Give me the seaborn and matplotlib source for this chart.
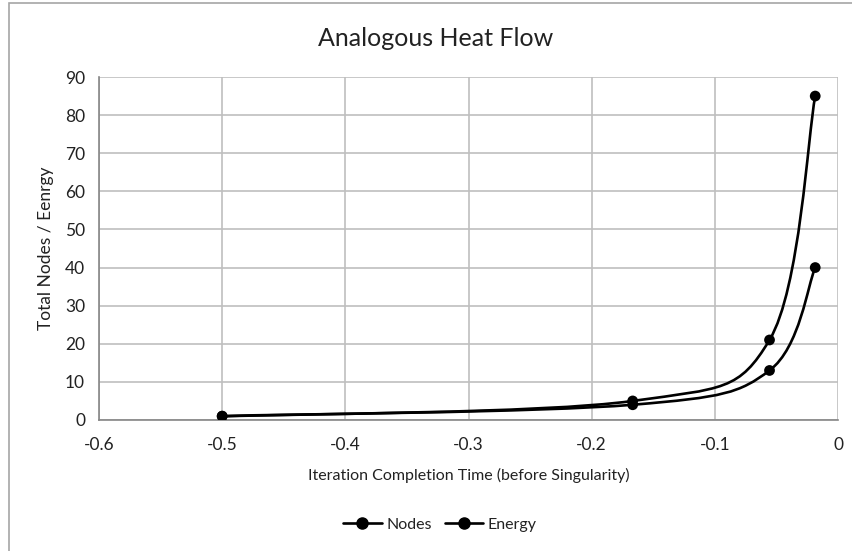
import matplotlib
matplotlib.use("Agg")
import matplotlib.pyplot as plt
import numpy as np
import pandas as pd
import seaborn as sns
from matplotlib.lines import Line2D
from matplotlib.path import Path
from matplotlib.patches import PathPatch, Rectangle

# data
completion_time = [-0.5, -0.1667, -0.0556, -0.0185]
nodes = [1, 5, 21, 85]
energy = [1, 4, 13, 40]
series_names = ["Nodes", "Energy"]

x_ticks = [-0.6, -0.5, -0.4, -0.3, -0.2, -0.1, 0]
x_tick_labels = ["-0.6", "-0.5", "-0.4", "-0.3", "-0.2", "-0.1", "0"]
y_ticks = [0, 10, 20, 30, 40, 50, 60, 70, 80, 90]

sns.set_theme(style="whitegrid")
plt.rcParams["font.family"] = ["Lato", "DejaVu Sans"]

df = pd.DataFrame({
    "x": completion_time * 2,
    "y": nodes + energy,
    "series": ["Nodes"] * len(nodes) + ["Energy"] * len(energy),
})


def smooth_path(xs, ys):
    # Excel-style smoothed line: cubic Bezier through every point
    pts = np.column_stack([xs, ys]).astype(float)
    n = len(pts)
    verts = [pts[0]]
    codes = [Path.MOVETO]
    for i in range(n - 1):
        p0 = pts[i - 1] if i > 0 else pts[i]
        p1 = pts[i]
        p2 = pts[i + 1]
        p3 = pts[i + 2] if i + 2 < n else pts[i + 1]
        c1 = p1 + (p2 - p0) / 6.0
        c2 = p2 - (p3 - p1) / 6.0
        verts += [c1, c2, p2]
        codes += [Path.CURVE4] * 3
    return Path(verts, codes)


fig = plt.figure(figsize=(8.52, 5.51), dpi=100)
ax = fig.add_axes([99 / 852, 1 - 420 / 551, (838 - 99) / 852, (420 - 77) / 551])

fig.patches.append(Rectangle((9 / 852, -0.1), 1.1, 1 - 3 / 551 + 0.1,
                             transform=fig.transFigure, fill=False,
                             edgecolor="#a6a6a6", linewidth=1.2))

for name, vals in zip(series_names, [nodes, energy]):
    ax.add_patch(PathPatch(smooth_path(completion_time, vals), fill=False,
                           edgecolor="black", linewidth=1.9, zorder=3))

sns.scatterplot(data=df, x="x", y="y", hue="series", palette=["black", "black"],
                s=60, edgecolor="black", linewidth=0, legend=False, ax=ax, zorder=4)

ax.set_xlim(-0.6, 0)
ax.set_ylim(0, 90)
ax.set_xticks(x_ticks)
ax.set_xticklabels(x_tick_labels)
ax.set_yticks(y_ticks)
ax.tick_params(axis="both", labelsize=12.5, length=0)
ax.tick_params(axis="x", pad=12)
ax.tick_params(axis="y", pad=10)
ax.tick_params(axis="both", labelcolor="#222222")
ax.grid(True, color="#bfbfbf", linewidth=1.2)
for side, sp in ax.spines.items():
    sp.set_visible(side in ("left", "bottom"))
    sp.set_color("#868686")
    sp.set_linewidth(1.2)
ax.set_facecolor("white")

ax.set_xlabel("Iteration Completion Time (before Singularity)", fontsize=11.5,
              labelpad=11, color="#222222")
ax.set_ylabel("Total Nodes / Eenrgy", fontsize=12.5, labelpad=8, color="#222222")
fig.text(436 / 852, 1 - 38 / 551, "Analogous Heat Flow", ha="center", va="center",
         fontsize=18, color="#222222")

handles = [Line2D([0], [0], color="black", lw=1.9, marker="o", markersize=8)
           for _ in series_names]
fig.legend(handles, series_names, loc="center", bbox_to_anchor=(440 / 852, 1 - 525 / 551),
           ncol=2, frameon=False, fontsize=11.5, handlelength=2.4, columnspacing=0.8,
           handletextpad=0.3, labelcolor="#222222")

fig.savefig("out.png", dpi=100)
